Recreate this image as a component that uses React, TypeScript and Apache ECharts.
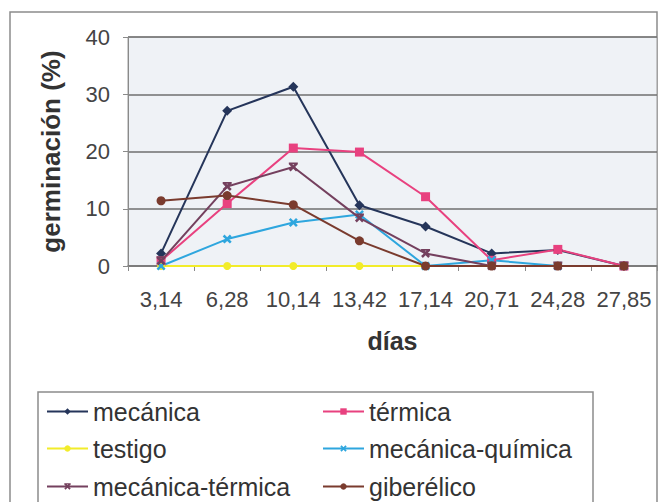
import React, { useEffect, useRef } from "react";
import * as echarts from "echarts";

const categories = ["3,14", "6,28", "10,14", "13,42", "17,14", "20,71", "24,28", "27,85"];
const mecanica = [2.2, 27.1, 31.3, 10.6, 6.9, 2.2, 2.8, 0];
const termica = [0.9, 10.9, 20.6, 19.9, 12.1, 1.0, 2.9, 0];
const testigo = [0, 0, 0, 0, 0, 0, 0, 0];
const mecanicaQuimica = [0, 4.7, 7.6, 9.0, 0, 1.0, 0, 0];
const mecanicaTermica = [0.9, 13.9, 17.3, 8.4, 2.2, 0, 0, 0];
const giberelico = [11.4, 12.3, 10.7, 4.4, 0, 0, 0, 0];
const yTicks = [0, 10, 20, 30, 40];

const FONT = "Liberation Sans, Arial, sans-serif";
const X_SYMBOL = "path://M2,0L5,3L8,0L10,2L7,5L10,8L8,10L5,7L2,10L0,8L3,5L0,2Z";
const STAR_SYMBOL = "path://M0,0L10,0L10,2L0,2Z M2,0L5,3L8,0L10,2L7,5L10,8L8,10L5,7L2,10L0,8L3,5L0,2Z";

const seriesDefs = [
  { name: "mecánica", data: mecanica, color: "#25355a", symbol: "diamond", size: 10 },
  { name: "térmica", data: termica, color: "#e8417f", symbol: "rect", size: 9 },
  { name: "testigo", data: testigo, color: "#f2ec2a", symbol: "circle", size: 8 },
  { name: "mecánica-química", data: mecanicaQuimica, color: "#2ea6de", symbol: X_SYMBOL, size: 9 },
  { name: "mecánica-térmica", data: mecanicaTermica, color: "#74405e", symbol: STAR_SYMBOL, size: 9 },
  { name: "giberélico", data: giberelico, color: "#7a3b2e", symbol: "circle", size: 9 },
];

const legendPos = [
  { left: 46, top: 399 },
  { left: 322, top: 399 },
  { left: 46, top: 436 },
  { left: 322, top: 436 },
  { left: 46, top: 474 },
  { left: 322, top: 474 },
];

export default function App() {
  const ref = useRef<HTMLDivElement>(null);
  useEffect(() => {
    if (!ref.current) return;
    const chart = echarts.init(ref.current, null, { renderer: "svg" });
    chart.setOption({
      animation: false,
      backgroundColor: "#ffffff",
      grid: {
        left: 128,
        right: 4,
        top: 37,
        bottom: 236,
        show: true,
        backgroundColor: "#eff2f6",
        borderColor: "#9a9a9a",
        borderWidth: 1,
      },
      xAxis: {
        type: "category",
        data: categories,
        boundaryGap: true,
        name: "días",
        nameLocation: "middle",
        nameGap: 62,
        nameTextStyle: { fontFamily: FONT, fontSize: 25, fontWeight: "bold", color: "#333" },
        axisLine: { show: true, lineStyle: { color: "#7a7a7a", width: 1.5 } },
        axisTick: { show: true, length: 5, alignWithLabel: false, interval: 0, lineStyle: { color: "#8a8a8a" } },
        axisLabel: { fontFamily: FONT, fontSize: 22, color: "#444", margin: 22, interval: 0, hideOverlap: false },
        splitLine: { show: false },
      },
      yAxis: {
        type: "value",
        min: yTicks[0],
        max: yTicks[yTicks.length - 1],
        interval: 10,
        name: "germinación (%)",
        nameLocation: "middle",
        nameGap: 64,
        nameTextStyle: { fontFamily: FONT, fontSize: 26, fontWeight: "bold", color: "#333" },
        axisLine: { show: true, lineStyle: { color: "#8a8a8a" } },
        axisTick: { show: true, length: 5, lineStyle: { color: "#8a8a8a" } },
        axisLabel: { fontFamily: FONT, fontSize: 22, color: "#444", margin: 18 },
        splitLine: { show: true, lineStyle: { color: "#6f6f6f", width: 1.5 } },
      },
      legend: seriesDefs.map((s, i) => ({
        data: [s.name],
        left: legendPos[i].left,
        top: legendPos[i].top,
        itemWidth: 41,
        itemHeight: 8,
        itemGap: 0,
        padding: 0,
        textStyle: { fontFamily: FONT, fontSize: 25, color: "#333", padding: [0, 0, 0, 0] },
      })),
      graphic: [
        {
          type: "rect",
          shape: { x: 10, y: 12, width: 647, height: 520 },
          style: { fill: "none", stroke: "#8c8c8c", lineWidth: 1.5 },
          silent: true,
          z: -1,
        },
        {
          type: "rect",
          shape: { x: 38, y: 392, width: 555, height: 140 },
          style: { fill: "none", stroke: "#8c8c8c", lineWidth: 1.5 },
          silent: true,
        },
      ],
      series: seriesDefs.map((s) => ({
        name: s.name,
        type: "line",
        data: s.data,
        symbol: s.symbol,
        symbolSize: s.size,
        showAllSymbol: true,
        lineStyle: { color: s.color, width: 2 },
        itemStyle: { color: s.color },
        emphasis: { disabled: true },
      })),
    });
    return () => chart.dispose();
  }, []);
  return (
    <div
      ref={ref}
      style={{ position: "fixed", left: 0, top: 0, width: 661, height: 502 }}
    />
  );
}
